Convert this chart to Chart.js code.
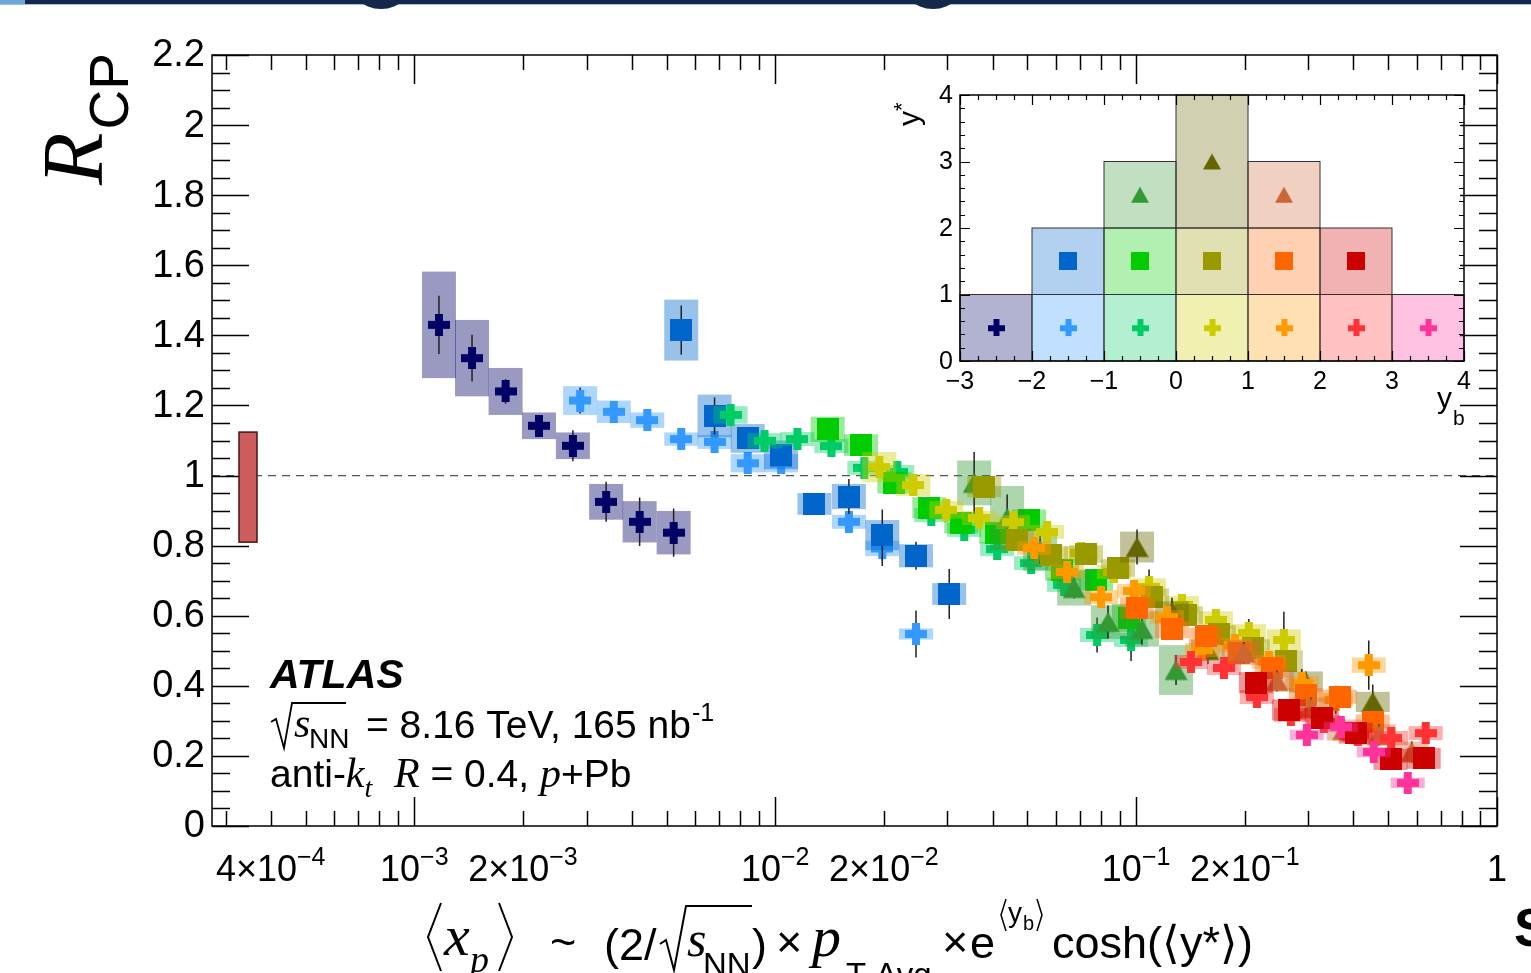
<!DOCTYPE html>
<html>
<head>
<meta charset="utf-8">
<title>R_CP vs x_p</title>
<script src="https://cdn.jsdelivr.net/npm/chart.js@4.4.1/dist/chart.umd.min.js"></script>
<style>
  html, body { margin: 0; padding: 0; background: #fff; overflow: hidden; }
  #page { position: relative; width: 1531px; height: 973px; overflow: hidden; }
  #main { position: absolute; left: 0; top: 0; }
  #inset { position: absolute; left: 880px; top: 70px; }
  .deco { position: absolute; }
</style>
</head>
<body>
<div id="page">
  <canvas id="main" width="1531" height="973"></canvas>
  <canvas id="inset" width="600" height="370"></canvas>
  <div class="deco" style="left:0;top:0;width:1531px;height:4px;background:#14284b"></div>
  <div class="deco" style="left:0;top:4px;width:1531px;height:1px;background:#9cc3e4"></div>
  <div class="deco" style="left:0;top:0;width:25px;height:4px;background:#6fa8d6"></div>
  <div class="deco" style="left:347px;top:-59px;width:68px;height:68px;border-radius:50%;background:#14284b"></div>
  <div class="deco" style="left:899px;top:-59px;width:68px;height:68px;border-radius:50%;background:#14284b"></div>
  <div class="deco" style="left:1514px;top:896px;font:bold 54px 'Liberation Sans', Arial, sans-serif;color:#000">S</div>
</div>
<script>
const SANS = '"Liberation Sans", Arial, sans-serif';
const SERIF = '"Liberation Serif", "Times New Roman", serif';

// Data. One series per (y_b, y*) bin.
// x = <x_p>, r = R_CP, stat = half length of the error bar, sys = half height of the box

// y_b -3..-2, y* 0..1
const xA = [1.17e-3, 1.445e-3, 1.79e-3, 2.215e-3, 2.75e-3, 3.40e-3, 4.21e-3, 5.23e-3];
const rA = [1.43, 1.335, 1.24, 1.142, 1.085, 0.925, 0.868, 0.837];
const statA = [0.083, 0.067, 0.035, 0.028, 0.044, 0.057, 0.069, 0.069];
const sysA = [0.152, 0.109, 0.067, 0.038, 0.038, 0.051, 0.059, 0.062];
// y_b -2..-1, y* 0..1
const xB = [2.88e-3, 3.57e-3, 4.42e-3, 5.49e-3, 6.79e-3, 8.39e-3, 1.038e-2, 1.60e-2, 1.98e-2, 2.455e-2];
const rB = [1.214, 1.182, 1.158, 1.104, 1.096, 1.035, 1.035, 0.868, 0.792, 0.548];
const statB = [0.037, 0.03, 0.02, 0.015, 0.02, 0.02, 0.02, 0.025, 0.05, 0.067];
const sysB = [0.041, 0.032, 0.022, 0.019, 0.02, 0.026, 0.026, 0.02, 0.022, 0.016];
// y_b -2..-1, y* 1..2
const xC = [5.49e-3, 6.79e-3, 8.39e-3, 1.038e-2, 1.284e-2, 1.60e-2, 1.98e-2, 2.455e-2, 3.035e-2];
const rC = [1.415, 1.170, 1.106, 1.059, 0.919, 0.940, 0.830, 0.771, 0.662];
const statC = [0.07, 0.053, 0.03, 0.03, 0.02, 0.05, 0.073, 0.04, 0.071];
const sysC = [0.087, 0.061, 0.041, 0.041, 0.031, 0.036, 0.043, 0.033, 0.031];
// y_b -1..0, y* 0..1
const xD = [7.52e-3, 9.34e-3, 1.152e-2, 1.431e-2, 1.766e-2, 2.179e-2, 2.707e-2, 3.339e-2, 4.121e-2, 5.118e-2, 6.317e-2, 7.795e-2, 9.681e-2];
const rD = [1.173, 1.099, 1.104, 1.084, 1.022, 1.010, 0.887, 0.845, 0.790, 0.750, 0.688, 0.545, 0.531];
const statD = [0.02, 0.02, 0.02, 0.02, 0.02, 0.02, 0.02, 0.02, 0.025, 0.03, 0.03, 0.05, 0.06];
const sysD = [0.025, 0.022, 0.02, 0.02, 0.02, 0.02, 0.02, 0.02, 0.02, 0.02, 0.02, 0.02, 0.02];
// y_b -1..0, y* 1..2
const xE = [1.397e-2, 1.729e-2, 2.138e-2, 2.673e-2, 3.276e-2, 4.095e-2, 5.053e-2, 6.237e-2, 7.745e-2, 9.557e-2];
const rE = [1.132, 1.087, 0.979, 0.908, 0.865, 0.836, 0.873, 0.73, 0.702, 0.594];
const statE = [0.03, 0.02, 0.02, 0.02, 0.02, 0.02, 0.02, 0.02, 0.02, 0.03];
const sysE = [0.036, 0.031, 0.03, 0.03, 0.03, 0.03, 0.03, 0.03, 0.03, 0.04];
// y_b -1..0, y* 2..3
const xF = [3.558e-2, 4.392e-2, 5.42e-2, 6.733e-2, 8.36e-2, 1.038e-1, 1.29e-1];
const rF = [0.979, 0.879, 0.788, 0.679, 0.582, 0.562, 0.445];
const statF = [0.088, 0.067, 0.04, 0.03, 0.047, 0.045, 0.043];
const sysF = [0.064, 0.091, 0.06, 0.05, 0.048, 0.05, 0.071];
// y_b 0..1, y* 0..1
const xG = [1.943e-2, 2.413e-2, 2.977e-2, 3.674e-2, 4.563e-2, 5.668e-2, 7.04e-2, 8.687e-2, 1.086e-1, 1.34e-1, 1.664e-1, 2.053e-1, 2.567e-1];
const rG = [1.024, 0.973, 0.902, 0.879, 0.867, 0.839, 0.779, 0.725, 0.682, 0.631, 0.588, 0.551, 0.531];
const statG = [0.02, 0.02, 0.02, 0.02, 0.02, 0.02, 0.02, 0.03, 0.05, 0.03, 0.03, 0.04, 0.08];
const sysG = [0.043, 0.031, 0.025, 0.02, 0.02, 0.02, 0.02, 0.02, 0.025, 0.025, 0.025, 0.025, 0.03];
// y_b 0..1, y* 1..2
const xH = [3.793e-2, 4.681e-2, 5.814e-2, 7.267e-2, 8.912e-2, 1.107e-1, 1.374e-1, 1.696e-1, 2.106e-1, 2.60e-1];
const rH = [0.968, 0.816, 0.773, 0.776, 0.736, 0.653, 0.602, 0.548, 0.508, 0.471];
const statH = [0.02, 0.02, 0.02, 0.02, 0.02, 0.02, 0.02, 0.02, 0.02, 0.03];
const sysH = [0.03, 0.03, 0.025, 0.025, 0.025, 0.025, 0.025, 0.025, 0.025, 0.03];
// y_b 0..1, y* 2..4
const xI = [1.006e-1, 1.257e-1, 1.581e-1, 2.953e-1, 4.526e-1];
const rI = [0.796, 0.611, 0.502, 0.411, 0.354];
const statI = [0.05, 0.04, 0.04, 0.03, 0.05];
const sysI = [0.044, 0.03, 0.03, 0.03, 0.029];
// y_b 1..2, y* 0..1
const xJ = [5.217e-2, 6.439e-2, 7.996e-2, 9.867e-2, 1.218e-1, 1.522e-1, 1.878e-1, 2.332e-1, 2.879e-1, 3.575e-1, 4.412e-1];
const rJ = [0.793, 0.725, 0.653, 0.671, 0.596, 0.502, 0.516, 0.468, 0.408, 0.36, 0.459];
const statJ = [0.02, 0.02, 0.02, 0.02, 0.03, 0.03, 0.03, 0.03, 0.04, 0.04, 0.07];
const sysJ = [0.02, 0.02, 0.02, 0.02, 0.02, 0.02, 0.02, 0.02, 0.02, 0.02, 0.022];
// y_b 1..2, y* 1..2
const xK = [1.006e-1, 1.257e-1, 1.561e-1, 1.927e-1, 2.377e-1, 2.953e-1, 3.667e-1, 4.526e-1];
const rK = [0.621, 0.561, 0.541, 0.494, 0.450, 0.374, 0.369, 0.298];
const statK = [0.03, 0.03, 0.03, 0.02, 0.02, 0.02, 0.02, 0.03];
const sysK = [0.03, 0.025, 0.025, 0.025, 0.025, 0.02, 0.02, 0.02];
// y_b 1..2, y* 2..3
const xL = [1.989e-1, 2.455e-1, 3.049e-1, 3.762e-1, 4.703e-1, 5.804e-1];
const rL = [0.495, 0.414, 0.337, 0.274, 0.26, 0.211];
const statL = [0.03, 0.03, 0.03, 0.03, 0.03, 0.03];
const sysL = [0.035, 0.03, 0.03, 0.03, 0.03, 0.03];
// y_b 2..3, y* 0..1
const xM = [1.419e-1, 1.751e-1, 2.161e-1, 2.684e-1, 3.312e-1, 4.114e-1, 5.09e-1, 6.345e-1];
const rM = [0.468, 0.451, 0.368, 0.317, 0.297, 0.26, 0.251, 0.265];
const statM = [0.02, 0.02, 0.02, 0.02, 0.02, 0.02, 0.02, 0.025];
const sysM = [0.02, 0.02, 0.02, 0.02, 0.02, 0.02, 0.02, 0.02];
// y_b 2..3, y* 1..2
const xN = [2.147e-1, 2.65e-1, 3.269e-1, 4.06e-1, 5.07e-1, 6.265e-1];
const rN = [0.409, 0.331, 0.307, 0.265, 0.19, 0.193];
const statN = [0.02, 0.02, 0.02, 0.02, 0.02, 0.025];
const sysN = [0.03, 0.03, 0.03, 0.03, 0.03, 0.03];
// y_b 3..4, y* 0..1
const xO = [2.972e-1, 3.691e-1, 4.555e-1, 5.658e-1];
const rO = [0.26, 0.283, 0.211, 0.123];
const statO = [0.02, 0.02, 0.02, 0.02];
const sysO = [0.015, 0.015, 0.015, 0.015];

const seriesX = [xA, xB, xC, xD, xE, xF, xG, xH, xI, xJ, xK, xL, xM, xN, xO];
const seriesR = [rA, rB, rC, rD, rE, rF, rG, rH, rI, rJ, rK, rL, rM, rN, rO];
const seriesStat = [statA, statB, statC, statD, statE, statF, statG, statH, statI, statJ, statK, statL, statM, statN, statO];
const seriesSys = [sysA, sysB, sysC, sysD, sysE, sysF, sysG, sysH, sysI, sysJ, sysK, sysL, sysM, sysN, sysO];

// inset bins, same order as the series
const binYbLo = [-3, -2, -2, -1, -1, -1, 0, 0, 0, 1, 1, 1, 2, 2, 3];
const binYsLo = [0, 0, 1, 0, 1, 2, 0, 1, 2, 0, 1, 2, 0, 1, 0];
const binYsHi = [1, 1, 2, 1, 2, 3, 1, 2, 4, 1, 2, 3, 1, 2, 1];

// normalisation uncertainty around 1
const normX = 3.46e-4;
const normBand = [0.81, 1.124];

const yTickVals = [0, 0.2, 0.4, 0.6, 0.8, 1, 1.2, 1.4, 1.6, 1.8, 2, 2.2];
const yTickText = ['0', '0.2', '0.4', '0.6', '0.8', '1', '1.2', '1.4', '1.6', '1.8', '2', '2.2'];
const xTickVals = [4e-4, 1e-3, 2e-3, 1e-2, 2e-2, 1e-1, 2e-1, 1];
const xTickBase = ['4×10', '10', '2×10', '10', '2×10', '10', '2×10', '1'];
const xTickExp = ['−4', '−3', '−3', '−2', '−2', '−1', '−1', ''];
const insetXTicks = [-3, -2, -1, 0, 1, 2, 3, 4];
const insetYTicks = [0, 1, 2, 3, 4];

// styles
const colors = ['#000066', '#3399ff', '#0066cc', '#00cc66', '#00cc00', '#339933', '#cccc00', '#999900',
  '#666600', '#ff9900', '#ff6600', '#cc6633', '#ff3333', '#cc0000', '#ff3399'];
const shapes = ['plus', 'plus', 'square', 'plus', 'square', 'triangle', 'plus', 'square',
  'triangle', 'plus', 'square', 'triangle', 'plus', 'square', 'plus'];
const mainSize = { plus: 22, square: 22, triangle: 23 };
const insetSize = { plus: 17, square: 18, triangle: 18 };
const BOX_HALF = 17;

function tinted(hex, a) {
  const n = parseInt(hex.slice(1), 16);
  return `rgba(${n >> 16}, ${(n >> 8) & 255}, ${n & 255}, ${a})`;
}

function markerImage(shape, color, size) {
  const c = document.createElement('canvas');
  c.width = size;
  c.height = size;
  const g = c.getContext('2d');
  g.fillStyle = color;
  if (shape === 'plus') {
    const t = Math.round(size * 0.36);
    const o = Math.round((size - t) / 2);
    g.fillRect(0, o, size, t);
    g.fillRect(o, 0, t, size);
  } else if (shape === 'square') {
    g.fillRect(0, 0, size, size);
  } else {
    g.beginPath();
    g.moveTo(size / 2, size * 0.06);
    g.lineTo(size, size * 0.94);
    g.lineTo(0, size * 0.94);
    g.closePath();
    g.fill();
  }
  return c;
}

function polyline(g, pts, w) {
  g.lineWidth = w;
  g.beginPath();
  pts.forEach(([x, y], i) => (i ? g.lineTo(x, y) : g.moveTo(x, y)));
  g.stroke();
}

// draws text pieces one after another: [text, font, dy]
function rich(g, x, y, parts) {
  for (const [txt, font, dy] of parts) {
    g.font = font;
    g.fillText(txt, x, y + (dy || 0));
    x += g.measureText(txt).width;
  }
  return x;
}

const decor = {
  id: 'decor',
  beforeDatasetsDraw(chart) {
    const g = chart.ctx, a = chart.chartArea;
    const y1 = chart.scales.y.getPixelForValue(1);
    g.save();
    g.strokeStyle = '#555';
    g.lineWidth = 1.2;
    g.setLineDash([8, 6]);
    g.beginPath();
    g.moveTo(a.left, y1);
    g.lineTo(a.right, y1);
    g.stroke();
    g.restore();
  },
  // boxes and stat bars of one series, right before its markers
  beforeDatasetDraw(chart, args) {
    const i = args.index;
    const g = chart.ctx, xs = chart.scales.x, ys = chart.scales.y;
    g.save();
    g.fillStyle = tinted(colors[i], 0.4);
    seriesX[i].forEach((x, j) => {
      const px = xs.getPixelForValue(x);
      const top = ys.getPixelForValue(seriesR[i][j] + seriesSys[i][j]);
      const bot = ys.getPixelForValue(seriesR[i][j] - seriesSys[i][j]);
      g.fillRect(px - BOX_HALF, top, 2 * BOX_HALF, bot - top);
    });
    g.strokeStyle = '#222';
    g.lineWidth = 1.5;
    g.beginPath();
    seriesX[i].forEach((x, j) => {
      const px = xs.getPixelForValue(x);
      g.moveTo(px, ys.getPixelForValue(seriesR[i][j] + seriesStat[i][j]));
      g.lineTo(px, ys.getPixelForValue(seriesR[i][j] - seriesStat[i][j]));
    });
    g.stroke();
    g.restore();
  },
  afterDatasetsDraw(chart) {
    const g = chart.ctx, a = chart.chartArea, xs = chart.scales.x, ys = chart.scales.y;
    g.save();
    g.strokeStyle = '#000';
    g.lineWidth = 1.5;
    g.strokeRect(a.left, a.top, a.right - a.left, a.bottom - a.top);
    g.beginPath();
    for (let e = -4; e <= 0; e++) {
      for (let m = 1; m <= 9; m++) {
        const v = m * Math.pow(10, e);
        if (v < xs.min * 0.999 || v > xs.max * 1.001) continue;
        const px = Math.round(xs.getPixelForValue(v)) + 0.5;
        const len = m === 1 ? 29 : 15;
        g.moveTo(px, a.bottom); g.lineTo(px, a.bottom - len);
        g.moveTo(px, a.top); g.lineTo(px, a.top + len);
      }
    }
    for (let k = 0; k <= 44; k++) {
      const py = Math.round(ys.getPixelForValue(k * 0.05)) + 0.5;
      const len = k % 4 === 0 ? 37 : 18;
      g.moveTo(a.left, py); g.lineTo(a.left + len, py);
      g.moveTo(a.right, py); g.lineTo(a.right - len, py);
    }
    g.stroke();
    // normalisation box
    const nx = xs.getPixelForValue(normX);
    const nTop = ys.getPixelForValue(normBand[1]);
    const nBot = ys.getPixelForValue(normBand[0]);
    g.fillStyle = '#cd5c5c';
    g.fillRect(nx - 9, nTop, 18, nBot - nTop);
    g.strokeStyle = '#4a1414';
    g.lineWidth = 1.5;
    g.strokeRect(nx - 9, nTop, 18, nBot - nTop);
    g.restore();
  },
  afterDraw(chart) {
    const g = chart.ctx, a = chart.chartArea, xs = chart.scales.x, ys = chart.scales.y;
    g.save();
    g.fillStyle = '#000';
    g.strokeStyle = '#000';
    // y tick labels
    g.font = '38px ' + SANS;
    g.textAlign = 'right';
    g.textBaseline = 'middle';
    yTickVals.forEach((v, i) => g.fillText(yTickText[i], a.left - 7, ys.getPixelForValue(v) + 1));
    // x tick labels with exponents
    g.textAlign = 'left';
    g.textBaseline = 'alphabetic';
    xTickVals.forEach((v, i) => {
      g.font = '36px ' + SANS;
      const wb = g.measureText(xTickBase[i]).width;
      g.font = '25px ' + SANS;
      const we = xTickExp[i] ? g.measureText(xTickExp[i]).width : 0;
      const x0 = xs.getPixelForValue(v) - (wb + we) / 2;
      g.font = '36px ' + SANS;
      g.fillText(xTickBase[i], x0, 881);
      if (we) { g.font = '25px ' + SANS; g.fillText(xTickExp[i], x0 + wb, 865); }
    });

    // y axis title R_CP
    g.save();
    g.translate(102, 185);
    g.rotate(-Math.PI / 2);
    g.font = 'italic 86px ' + SERIF;
    g.fillText('R', 0, 0);
    const wr = g.measureText('R').width;
    g.font = '55px ' + SANS;
    g.fillText('CP', wr + 3, 26);
    g.restore();

    // x axis title
    polyline(g, [[441, 903], [428, 937], [441, 971]], 2);
    g.font = 'italic 58px ' + SERIF;
    g.fillText('x', 444, 955);
    g.font = 'italic 38px ' + SERIF;
    g.fillText('p', 470, 972);
    polyline(g, [[499, 903], [512, 937], [499, 971]], 2);
    g.font = '45px ' + SANS;
    g.fillText('~', 550, 957);
    g.fillText('(2/', 604, 960);
    polyline(g, [[660, 944], [666, 940], [674, 970], [686, 906], [752, 906]], 2);
    g.font = 'italic 50px ' + SERIF;
    g.fillText('s', 687, 956);
    g.font = '33px ' + SANS;
    g.fillText('NN', 703, 976);
    g.font = '45px ' + SANS;
    g.fillText(')', 752, 960);
    g.fillText('×', 776, 957);
    g.font = 'italic 58px ' + SERIF;
    g.fillText('p', 812, 956);
    g.font = '33px ' + SANS;
    g.fillText('T Avg', 846, 986);
    g.font = '45px ' + SANS;
    g.fillText('×', 942, 957);
    g.fillText('e', 970, 958);
    polyline(g, [[1006, 899], [1001, 915], [1006, 931]], 1.5);
    g.font = '28px ' + SANS;
    g.fillText('y', 1008, 922);
    g.font = '20px ' + SANS;
    g.fillText('b', 1023, 930);
    polyline(g, [[1037, 899], [1042, 915], [1037, 931]], 1.5);
    g.font = '45px ' + SANS;
    g.fillText('cosh(⟨y*⟩)', 1052, 958);

    // ATLAS label
    g.font = 'bold italic 41px ' + SANS;
    g.fillText('ATLAS', 270, 688);
    polyline(g, [[271, 722], [276, 719], [284, 748], [292, 703], [346, 703]], 1.8);
    g.font = 'italic 42px ' + SERIF;
    g.fillText('s', 294, 737);
    g.font = '28px ' + SANS;
    g.fillText('NN', 309, 748);
    g.font = '39px ' + SANS;
    const xe = rich(g, 366, 738, [['= 8.16 TeV, 165 nb', '39px ' + SANS, 0]]);
    g.font = '25px ' + SANS;
    g.fillText('-1', xe + 1, 721);
    rich(g, 270, 787, [
      ['anti-', '39px ' + SANS, 0],
      ['k', 'italic 42px ' + SERIF, 0],
      ['t', 'italic 28px ' + SERIF, 10],
      ['  ', '39px ' + SANS, 0],
      ['R', 'italic 42px ' + SERIF, 0],
      [' = 0.4, ', '39px ' + SANS, 0],
      ['p', 'italic 42px ' + SERIF, 0],
      ['+Pb', '39px ' + SANS, 0]
    ]);
    g.restore();
  }
};

const mainDatasets = seriesX.map((xs, i) => ({
  data: xs.map((x, j) => ({ x, y: seriesR[i][j] })),
  pointStyle: markerImage(shapes[i], colors[i], mainSize[shapes[i]]),
  pointRadius: 10,
  order: -i
}));

new Chart(document.getElementById('main'), {
  type: 'scatter',
  data: { datasets: mainDatasets },
  options: {
    responsive: false,
    animation: false,
    devicePixelRatio: 1,
    events: [],
    layout: { padding: { left: 212, top: 55, right: 34, bottom: 147 } },
    scales: {
      x: { type: 'logarithmic', min: 2.75e-4, max: 1.0, display: false },
      y: { type: 'linear', min: 0, max: 2.2, display: false }
    },
    plugins: { legend: { display: false }, tooltip: { enabled: false } }
  },
  plugins: [decor]
});

// inset: the (y_b, y*) bins
const insetDecor = {
  id: 'insetDecor',
  beforeDatasetsDraw(chart) {
    const g = chart.ctx, xs = chart.scales.x, ys = chart.scales.y;
    g.save();
    g.strokeStyle = '#333';
    g.lineWidth = 1;
    binYbLo.forEach((lo, i) => {
      const x0 = xs.getPixelForValue(lo), x1 = xs.getPixelForValue(lo + 1);
      const y0 = ys.getPixelForValue(binYsHi[i]), y1 = ys.getPixelForValue(binYsLo[i]);
      g.fillStyle = tinted(colors[i], 0.3);
      g.fillRect(x0, y0, x1 - x0, y1 - y0);
      g.strokeRect(x0, y0, x1 - x0, y1 - y0);
    });
    g.restore();
  },
  afterDatasetsDraw(chart) {
    const g = chart.ctx, a = chart.chartArea, xs = chart.scales.x, ys = chart.scales.y;
    g.save();
    g.strokeStyle = '#000';
    g.lineWidth = 1.5;
    g.strokeRect(a.left, a.top, a.right - a.left, a.bottom - a.top);
    g.lineWidth = 1.2;
    g.beginPath();
    for (let k = 0; k <= 28; k++) {
      const px = Math.round(xs.getPixelForValue(-3 + k * 0.25)) + 0.5;
      const len = k % 4 === 0 ? 10 : 5;
      g.moveTo(px, a.bottom); g.lineTo(px, a.bottom - len);
      g.moveTo(px, a.top); g.lineTo(px, a.top + len);
    }
    for (let k = 0; k <= 20; k++) {
      const py = Math.round(ys.getPixelForValue(k * 0.2)) + 0.5;
      const len = k % 5 === 0 ? 10 : 5;
      g.moveTo(a.left, py); g.lineTo(a.left + len, py);
      g.moveTo(a.right, py); g.lineTo(a.right - len, py);
    }
    g.stroke();
    g.fillStyle = '#000';
    g.font = '25px ' + SANS;
    g.textAlign = 'center';
    insetXTicks.forEach(v => g.fillText(v < 0 ? '−' + (-v) : String(v), xs.getPixelForValue(v), 319));
    g.textAlign = 'right';
    g.textBaseline = 'middle';
    insetYTicks.forEach(v => g.fillText(String(v), a.left - 7, ys.getPixelForValue(v) + 1));
    g.textAlign = 'left';
    g.textBaseline = 'alphabetic';
    g.save();
    g.translate(39, 56);
    g.rotate(-Math.PI / 2);
    g.font = '30px ' + SANS;
    g.fillText('y', 0, 0);
    const wy = g.measureText('y').width;
    g.font = '22px ' + SANS;
    g.fillText('*', wy, -10);
    g.restore();
    g.font = '30px ' + SANS;
    g.fillText('y', 557, 338);
    g.font = '21px ' + SANS;
    g.fillText('b', 573, 355);
    g.restore();
  }
};

new Chart(document.getElementById('inset'), {
  type: 'scatter',
  data: {
    datasets: colors.map((c, i) => ({
      data: [{ x: binYbLo[i] + 0.5, y: (binYsLo[i] + binYsHi[i]) / 2 }],
      pointStyle: markerImage(shapes[i], c, insetSize[shapes[i]]),
      pointRadius: 8
    }))
  },
  options: {
    responsive: false,
    animation: false,
    devicePixelRatio: 1,
    events: [],
    layout: { padding: { left: 80, top: 25, right: 16, bottom: 79 } },
    scales: {
      x: { type: 'linear', min: -3, max: 4, display: false },
      y: { type: 'linear', min: 0, max: 4, display: false }
    },
    plugins: { legend: { display: false }, tooltip: { enabled: false } }
  },
  plugins: [insetDecor]
});
</script>
</body>
</html>
